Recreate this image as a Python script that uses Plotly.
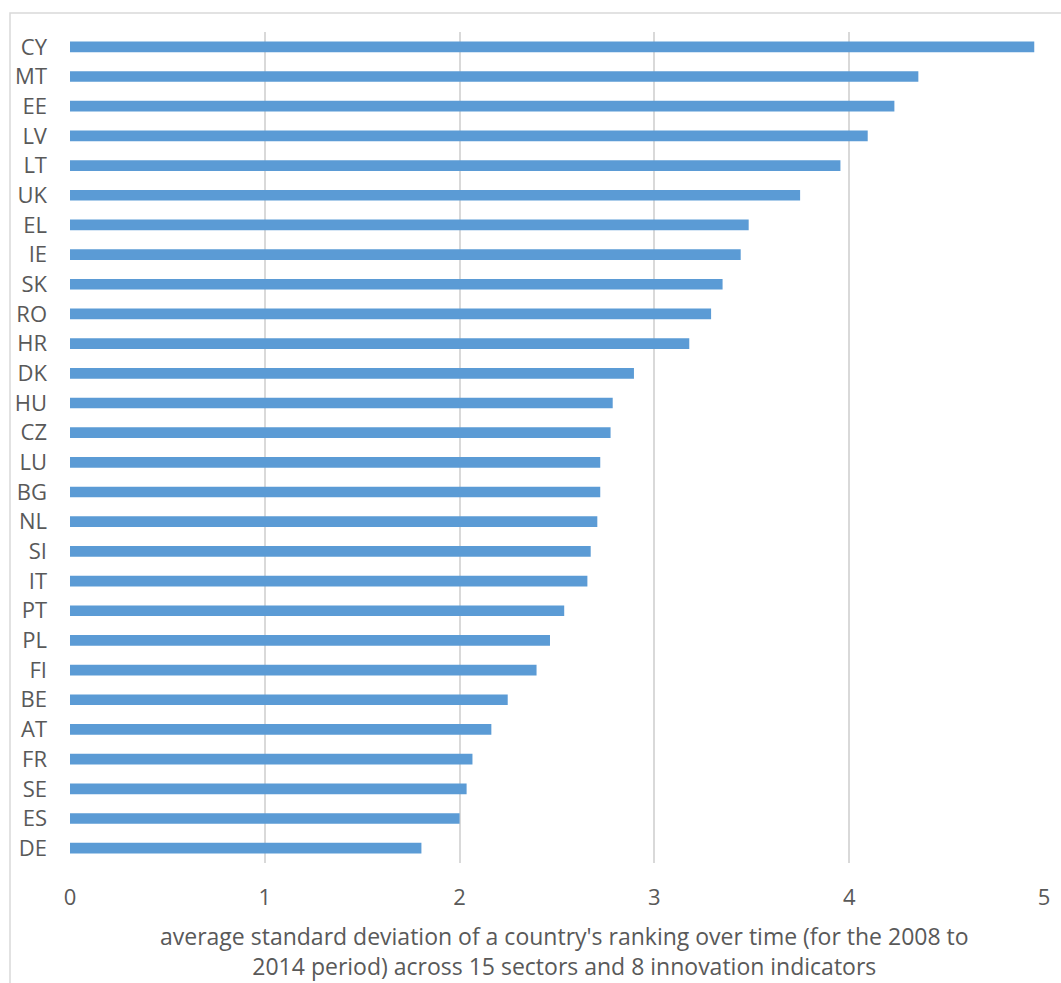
import plotly.graph_objects as go

countries = ["CY", "MT", "EE", "LV", "LT", "UK", "EL", "IE", "SK", "RO", "HR", "DK", "HU", "CZ",
             "LU", "BG", "NL", "SI", "IT", "PT", "PL", "FI", "BE", "AT", "FR", "SE", "ES", "DE"]
values = [4.95, 4.355, 4.232, 4.095, 3.955, 3.748, 3.484, 3.443, 3.350, 3.291, 3.179, 2.895,
          2.786, 2.775, 2.722, 2.722, 2.707, 2.673, 2.656, 2.537, 2.464, 2.395, 2.247, 2.163,
          2.066, 2.036, 2.0, 1.804]
x_ticks = [0, 1, 2, 3, 4, 5]
axis_title = ("average standard deviation of a country's ranking over time (for the 2008 to<br>"
              "2014 period) across 15 sectors and 8 innovation indicators")

W, H = 1061, 983
L, R, T, B = 70, 17, 32, 120
FONT = "Open Sans"
GREY = "#595959"

fig = go.Figure(go.Bar(
    x=values, y=countries, orientation="h",
    marker=dict(color="#5B9BD5", line=dict(width=0)),
    width=0.36,
))

fig.update_layout(
    width=W, height=H,
    margin=dict(l=L, r=R, t=T, b=B, pad=0),
    paper_bgcolor="white", plot_bgcolor="white",
    showlegend=False,
    font=dict(family=FONT, color=GREY, size=22),
    xaxis=dict(range=[0, 5], tickvals=x_ticks, showgrid=True, gridcolor="#d9d9d9", gridwidth=2,
               zeroline=False, showline=False, ticks="", tickfont=dict(size=22, color=GREY),
               ticklabelstandoff=19, fixedrange=True),
    yaxis=dict(categoryorder="array", categoryarray=countries[::-1], autorange=False,
               range=[-0.5, len(countries) - 0.5], showgrid=False, zeroline=False,
               showline=False, ticks="", tickfont=dict(size=22, color=GREY),
               ticklabelstandoff=22),
    annotations=[dict(text=axis_title, xref="paper", yref="paper",
                      x=(564 - L) / (W - L - R), y=-(951 - (H - B)) / (H - T - B),
                      xanchor="center", yanchor="middle", showarrow=False,
                      font=dict(family=FONT, size=23, color=GREY), align="center")],
    shapes=[dict(type="rect", xref="paper", yref="paper",
                 x0=(10 - L) / (W - L - R), x1=(1075 - L) / (W - L - R),
                 y0=-(1000 - (H - B)) / (H - T - B), y1=1 + (T - 13) / (H - T - B),
                 line=dict(color="#d9d9d9", width=1.5), layer="below")],
)

fig.write_html("out.html")
